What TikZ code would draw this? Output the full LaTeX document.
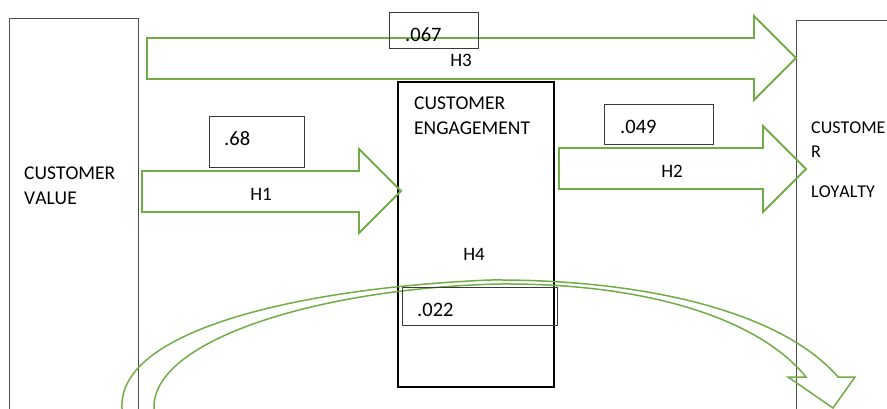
\documentclass[tikz,border=0pt]{standalone}
\usepackage{fontspec}
\setmainfont[Kerning=Off]{Carlito}
\definecolor{arrowgreen}{HTML}{70AD47}
\definecolor{inkgrey}{HTML}{3A3A3A}
\begin{document}
\begin{tikzpicture}[x=1pt,y=-1pt,
  openframe/.style={draw=inkgrey!90, line width=1pt},
  midframe/.style={draw=black, line width=1.7pt},
  valbox/.style={draw=inkgrey, line width=0.9pt},
  blockarrow/.style={draw=arrowgreen, line width=1.8pt, line join=miter},
  bendarrow/.style={draw=arrowgreen, line width=1.5pt, line join=miter},
  lbl/.style={anchor=base west, inner sep=0pt, text=black},
  hlbl/.style={anchor=base, inner sep=0pt, text=black},
]
\useasboundingbox (0,0) rectangle (887,408);

% construct frames (left and right run off the page)
\draw[openframe] (9,410) -- (9,18) -- (138,18) -- (138,410);
\draw[openframe] (796,410) -- (796,20) -- (890,20);
\node[midframe, rectangle, minimum width=156pt, minimum height=305pt, inner sep=0pt]
  (engage) at (476,234.5) {};

% straight block arrows
\draw[blockarrow] (147,38) -- (754,38) -- (754,16) -- (796,58) -- (754,100)
  -- (754,79) -- (147,79) -- cycle;
\draw[blockarrow] (142,171) -- (359,171) -- (359,149) -- (401,191) -- (359,233)
  -- (359,212) -- (142,212) -- cycle;
\draw[blockarrow] (559,148) -- (763,148) -- (763,126) -- (806,169) -- (763,212)
  -- (763,189) -- (559,189) -- cycle;

% curved block arrow H4
\draw[bendarrow] (122,412) -- (122,408)
  .. controls (118,330) and (300,288) .. (490,280)
  .. controls (640,279) and (780,310) .. (838,377)
  -- (855,377) -- (833,408) -- (788,377) -- (806,377)
  .. controls (760,320) and (650,283) .. (500,284)
  .. controls (320,288) and (152,340) .. (154,408) -- (154,412);

% coefficient boxes
\node[valbox, rectangle, minimum width=89pt, minimum height=36pt, inner sep=0pt] (b067) at (433.5,30) {};
\node[valbox, rectangle, minimum width=95pt, minimum height=51pt, inner sep=0pt] (b68) at (256.5,141.5) {};
\node[valbox, rectangle, minimum width=109pt, minimum height=40pt, inner sep=0pt] (b049) at (658.5,124) {};
\node[valbox, rectangle, minimum width=155pt, minimum height=38pt, inner sep=0pt] (b022) at (479.5,306) {};

% construct labels
\node[lbl, font=\fontsize{19.5}{23}\selectfont] (cv1) at (24,179) {CUSTOMER};
\node[lbl, font=\fontsize{19.5}{23}\selectfont] (cv2) at (24,204) {VALUE};
\node[lbl, font=\fontsize{19.5}{23}\selectfont] (ce1) at (414,109) {CUSTOMER};
\node[lbl, font=\fontsize{19.5}{23}\selectfont] (ce2) at (414,134) {ENGAGEMENT};
\node[lbl, font=\fontsize{18}{21}\selectfont] (cl1) at (811,133) {CUSTOME};
\node[lbl, font=\fontsize{18}{21}\selectfont] (cl2) at (811,157) {R};
\node[lbl, font=\fontsize{18}{21}\selectfont] (cl3) at (811,197) {LOYALTY};

% coefficient values
\node[lbl, font=\fontsize{20.5}{24}\selectfont] (v067) at (405,41) {.067};
\node[lbl, font=\fontsize{20.5}{24}\selectfont] (v68) at (224,145) {.68};
\node[lbl, font=\fontsize{20.5}{24}\selectfont] (v049) at (620,133) {.049};
\node[lbl, font=\fontsize{20.5}{24}\selectfont] (v022) at (417,316) {.022};

% hypothesis labels
\node[hlbl, font=\fontsize{19}{22}\selectfont] (h3) at (461,66) {H3};
\node[hlbl, font=\fontsize{19}{22}\selectfont] (h1) at (261,200) {H1};
\node[hlbl, font=\fontsize{19}{22}\selectfont] (h2) at (672,177) {H2};
\node[hlbl, font=\fontsize{19}{22}\selectfont] (h4) at (474,260) {H4};
\end{tikzpicture}
\end{document}
